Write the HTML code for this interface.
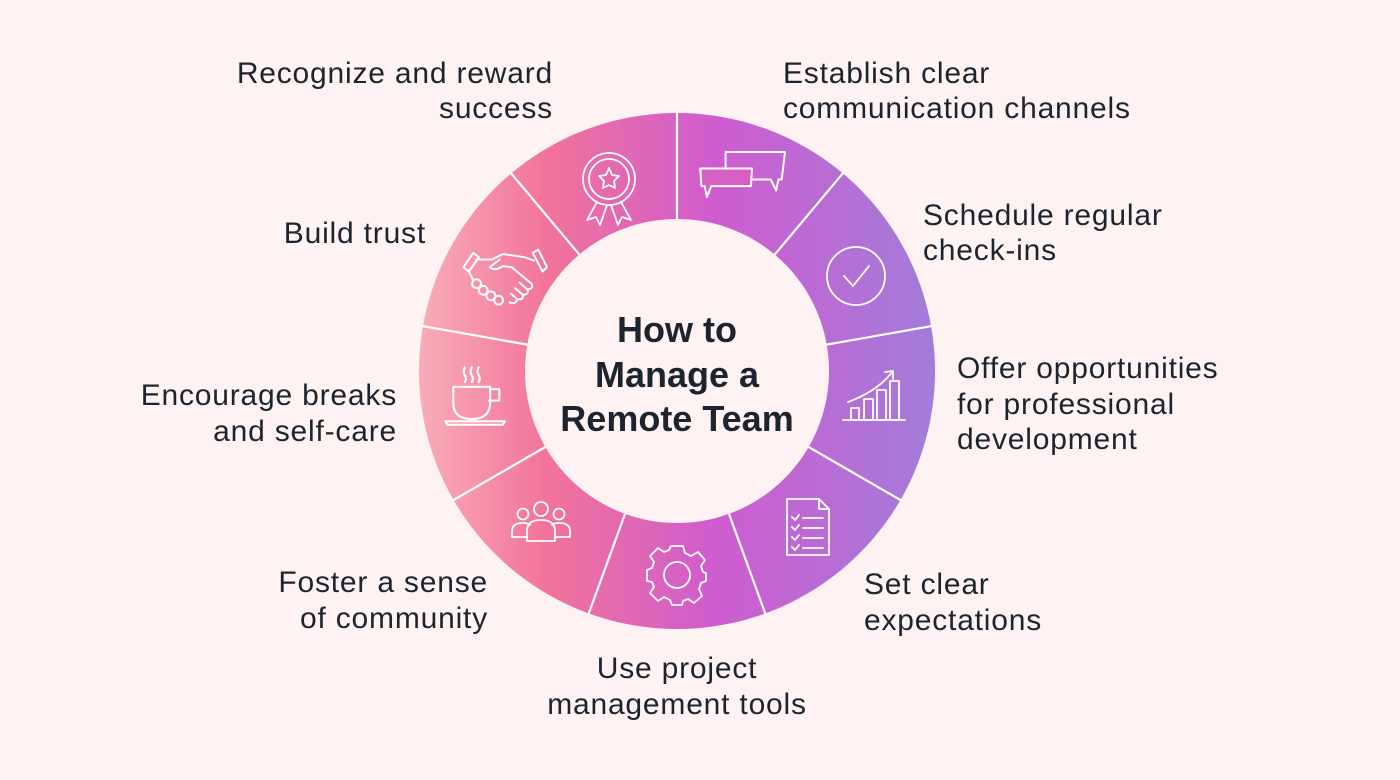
<!DOCTYPE html>
<html><head><meta charset="utf-8"><style>
html,body{margin:0;padding:0;background:#fef3f2;}
svg{display:block;}
text{font-family:"Liberation Sans",sans-serif;fill:#1d2430;}
.l{font-size:30px;letter-spacing:0.8px;}
.t{font-size:36px;font-weight:bold;}
.ic{fill:none;stroke:#fff;stroke-width:1.8;stroke-linejoin:round;stroke-linecap:round;}
</style></head><body>
<svg width="1400" height="780" viewBox="0 0 1400 780">
<defs>
<linearGradient id="g" x1="418" y1="0" x2="936" y2="0" gradientUnits="userSpaceOnUse">
<stop offset="0" stop-color="#f9adb9"/>
<stop offset="0.25" stop-color="#f2739a"/>
<stop offset="0.57" stop-color="#cf5ccf"/>
<stop offset="1" stop-color="#a27cda"/>
</linearGradient>
</defs>
<rect width="1400" height="780" fill="#fef3f2"/>
<path fill="url(#g)" fill-rule="evenodd" d="M677,113 a258,258 0 1,0 0.01,0 Z M677,219 a152,152 0 1,0 0.01,0 Z"/>
<g stroke="#fff" stroke-width="2.2">
<line x1="677" y1="219" x2="677" y2="111" transform="rotate(0 677 371)"/>
<line x1="677" y1="219" x2="677" y2="111" transform="rotate(40 677 371)"/>
<line x1="677" y1="219" x2="677" y2="111" transform="rotate(80 677 371)"/>
<line x1="677" y1="219" x2="677" y2="111" transform="rotate(120 677 371)"/>
<line x1="677" y1="219" x2="677" y2="111" transform="rotate(160 677 371)"/>
<line x1="677" y1="219" x2="677" y2="111" transform="rotate(200 677 371)"/>
<line x1="677" y1="219" x2="677" y2="111" transform="rotate(240 677 371)"/>
<line x1="677" y1="219" x2="677" y2="111" transform="rotate(280 677 371)"/>
<line x1="677" y1="219" x2="677" y2="111" transform="rotate(320 677 371)"/>
</g>
<!-- award -->
<g class="ic" transform="translate(609,179)">
<circle r="26"/><circle r="20"/>
<path d="M0,-11 L3,-4 L10,-3 L5,2 L6,9 L0,6 L-6,9 L-5,2 L-10,-3 L-3,-4 Z"/>
<path d="M-12,23 L-22,41 L-13,38 L-9,46 L-2,26"/>
<path d="M12,23 L22,41 L13,38 L9,46 L2,26"/>
</g>
<!-- chat -->
<g class="ic" transform="translate(741,174) scale(1.1)">
<path d="M-14,-20 L40,-20 L37,5 L34,5 L32,15 L27,5 L-14,5 Z"/>
<path d="M-37,-5 L10,-5 L9,11 L-27,11 L-31,21 L-33,11 L-36,11 Z" fill="#d860c4"/>
</g>
<!-- check -->
<g class="ic" transform="translate(856,276)">
<circle r="29"/><path d="M-12,0 L-3,10 L13,-10"/>
</g>
<!-- chart -->
<g class="ic" transform="translate(873,396)">
<path d="M-30,24 L32,24"/>
<rect x="-22" y="12" width="8" height="12"/><rect x="-9" y="3" width="9" height="21"/><rect x="4" y="-6" width="9" height="30"/><rect x="17" y="-15" width="9" height="39"/>
<path d="M-25,6 Q5,-5 20,-25"/><path d="M12,-24 L20,-25 L20,-17"/>
</g>
<!-- doc -->
<g class="ic" transform="translate(808,527)">
<path d="M-21,-28 L11,-28 L21,-18 L21,28 L-21,28 Z"/><path d="M11,-28 L11,-18 L21,-18"/>
<path d="M-16,-10 L-13,-7 L-9,-12 M-5,-9 L15,-9"/>
<path d="M-16,0 L-13,3 L-9,-2 M-5,1 L15,1"/>
<path d="M-16,10 L-13,13 L-9,8 M-5,11 L15,11"/>
<path d="M-16,20 L-13,23 L-9,18 M-5,21 L15,21"/>
</g>
<!-- gear -->
<g class="ic" transform="translate(677,575)">
<circle r="13"/>
<path d="M-6,-29 L6,-29 L8,-22 L14,-19 L21,-23 L28,-15 L24,-9 L26,-3 L29,-2 L29,6 L24,8 L22,14 L25,21 L17,28 L11,24 L6,26 L5,30 L-5,30 L-7,25 L-13,22 L-19,26 L-27,18 L-23,12 L-25,7 L-30,6 L-30,-5 L-25,-7 L-23,-13 L-27,-19 L-19,-27 L-13,-23 L-8,-25 Z"/>
</g>
<!-- people -->
<g class="ic" transform="translate(541,522)">
<circle cx="0" cy="-13" r="7"/><circle cx="-18" cy="-8" r="5.5"/><circle cx="18" cy="-8" r="5.5"/>
<path d="M-14,19 L-14,9 Q-14,-2 0,-2 Q14,-2 14,9 L14,19 Z"/>
<path d="M-14,15 L-29,15 L-29,9 Q-29,1 -18,1 Q-13,1 -11,3"/>
<path d="M14,15 L29,15 L29,9 Q29,1 18,1 Q13,1 11,3"/>
</g>
<!-- cup -->
<g class="ic" transform="translate(474,396) scale(1.15)">
<path d="M-18,-8 L14,-8 L14,6 Q14,20 -2,20 Q-18,20 -18,6 Z"/>
<path d="M14,-6 L22,-6 L22,4 L13,4"/>
<path d="M-25,22 L27,22 L25,25 L-23,25 Z"/>
<path d="M-8,-25 Q-10,-21 -8,-18 Q-6,-15 -8,-12 M-2,-25 Q-4,-21 -2,-18 Q0,-15 -2,-12 M4,-25 Q2,-21 4,-18 Q6,-15 4,-12"/>
</g>
<!-- handshake -->
<g class="ic" transform="translate(503,276) scale(1.1)">
<path d="M-36,-8 L-27,-21 L-22,-17 L-31,-4 Z"/>
<path d="M36,-4 L27,-21 L32,-24 L40,-8 Z"/>
<path d="M-24,-15 L-10,-15 L0,-20 L20,-17 L28,-14"/>
<path d="M-3,-15 L-12,-8 Q-8,-4 0,-9 L8,-8 L26,7"/>
<path d="M-31,-4 L-27,4"/>
<path d="M26,7 Q28,12 22,12 L15,6 M22,12 Q24,17 18,17 L11,11 M18,17 Q19,22 13,21 L7,16 M13,21 Q12,26 6,24"/>
<circle cx="-24" cy="7" r="4"/><circle cx="-18" cy="13" r="4"/><circle cx="-11" cy="18" r="4"/><circle cx="-4" cy="22" r="4"/>
</g>
<!-- title -->
<text class="t" x="677" y="342" text-anchor="middle">How to</text>
<text class="t" x="677" y="387" text-anchor="middle">Manage a</text>
<text class="t" x="677" y="431" text-anchor="middle">Remote Team</text>
<!-- labels -->
<g class="l">
<text x="553" y="83" text-anchor="end">Recognize and reward</text>
<text x="553" y="118" text-anchor="end">success</text>
<text x="783" y="83">Establish clear</text>
<text x="783" y="118">communication channels</text>
<text x="923" y="225">Schedule regular</text>
<text x="923" y="260">check-ins</text>
<text x="957" y="378">Offer opportunities</text>
<text x="957" y="414">for professional</text>
<text x="957" y="449">development</text>
<text x="864" y="594">Set clear</text>
<text x="864" y="630">expectations</text>
<text x="677" y="678" text-anchor="middle">Use project</text>
<text x="677" y="714" text-anchor="middle">management tools</text>
<text x="488" y="592" text-anchor="end">Foster a sense</text>
<text x="488" y="628" text-anchor="end">of community</text>
<text x="397" y="405" text-anchor="end">Encourage breaks</text>
<text x="397" y="441" text-anchor="end">and self-care</text>
<text x="426" y="243" text-anchor="end">Build trust</text>
</g>
</svg>
</body></html>
